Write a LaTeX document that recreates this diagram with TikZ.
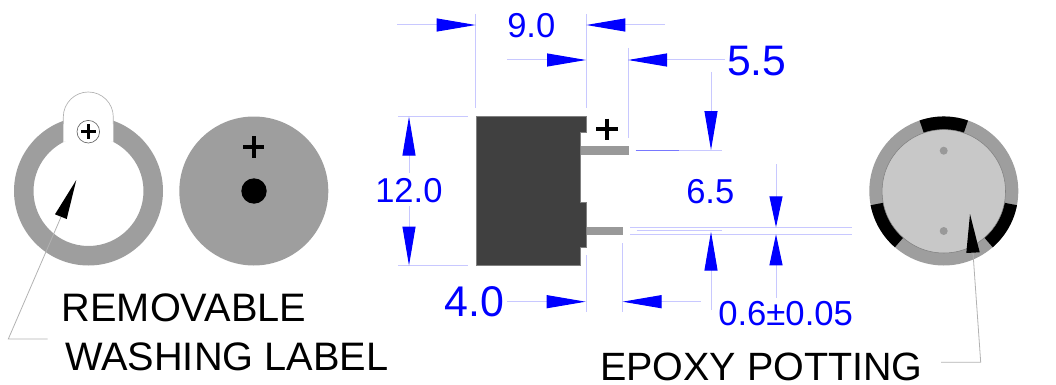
\documentclass[tikz,border=0pt]{standalone}
\usepackage{fontspec}
\setmainfont{Liberation Sans}
\usetikzlibrary{arrows.meta}
\definecolor{dimblue}{HTML}{0000FF}
\definecolor{dimline}{HTML}{C8C8FF}
\definecolor{ringgray}{HTML}{9E9E9E}
\definecolor{pingray}{HTML}{999999}
\definecolor{bodygray}{HTML}{404040}
\definecolor{epoxy}{HTML}{C8C8C8}
\tikzset{
  x=0.75pt,y=-0.75pt,
  dimrule/.style={draw=dimline,line width=0.75pt},
  dimarrow/.style={dimrule,-{Triangle[length=29.25pt,width=9.75pt,color=dimblue]}},
  dimarrowshort/.style={dimrule,-{Triangle[length=23.25pt,width=9.75pt,color=dimblue]}},
  leader/.style={draw=black!30,line width=0.6pt},
  pointer/.style={fill=black,draw=none},
  dimtext/.style={text=dimblue,anchor=base west,inner sep=0pt,font=\fontsize{#1}{#1}\selectfont},
  blacktext/.style={text=black,anchor=base west,inner sep=0pt,font=\fontsize{#1}{#1}\selectfont},
  plusmark/.style={draw=black,line width=3pt},
}
\begin{document}
\begin{tikzpicture}
\useasboundingbox (0,0) rectangle (1056,385);
% --- washing label ring
\fill[ringgray,even odd rule] (88.5,191) circle[radius=74.5] (88.5,191) circle[radius=55];
\fill[white] (63.3,142) -- (63.3,117) arc[start angle=180,end angle=360,radius=25] -- (113.3,142) -- (88.5,136) -- cycle;
\draw[draw=black!30,line width=0.5pt] (63.3,124) -- (63.3,117) arc[start angle=180,end angle=360,radius=25] -- (113.3,124);
\draw[black!60,line width=0.5pt,fill=white] (88.3,131.7) circle[radius=11.3];
\draw[black,line width=2.2pt] (81,131.7) -- (96,131.7) (88.3,124.4) -- (88.3,139);
\path[pointer] (76.3,180) -- (55,214.3) -- (66.7,219) -- cycle;
\draw[leader] (61,217) -- (8.3,339) -- (47.7,339);
% --- disk
\fill[ringgray] (253.8,191) circle[radius=74.5];
\fill[black] (254,191) circle[radius=12.7];
\draw[plusmark] (243,146.7) -- (264,146.7) (253.5,136) -- (253.5,157.5);
\node[blacktext=29.8] (removable) at (61.5,321) {REMOVABLE};
\node[blacktext=29.8] (washing) at (65,370) {WASHING LABEL};
% --- side view
\draw[pingray,fill=pingray,line width=0.5pt] (580,146.7) rectangle (628,154.3);
\draw[pingray,fill=pingray,line width=0.5pt] (586,227.3) rectangle (622.3,234.7);
\draw[fill=bodygray,draw=black!50,line width=0.5pt] (476,116.7) -- (586,116.7) -- (586,132.7) -- (580.3,132.7) -- (580.3,202.3) -- (586,202.3) -- (586,247.7) -- (580.3,247.7) -- (580.3,265.7) -- (476,265.7) -- cycle;
\draw[plusmark] (596,129.3) -- (617.5,129.3) (606.7,118.5) -- (606.7,140);
% --- dimension 9.0
\draw[dimrule] (475.7,14) -- (475.7,108);
\draw[dimrule] (586.3,14) -- (586.3,108);
\draw[dimarrow] (397,25) -- (475.7,25);
\draw[dimarrow] (665,25) -- (586.3,25);
\node[dimtext=25.9] (d90) at (507,37.7) {9.0};
% --- dimension 5.5
\draw[dimrule] (628,48) -- (628,138);
\draw[dimarrow] (507,60) -- (586,60);
\draw[dimarrow] (725,60) -- (628,60);
\node[dimtext=32] (d55) at (727,75) {5.5};
\draw[dimarrow] (711,72) -- (711,150);
\draw[dimrule] (635.7,150) -- (721.7,150);
\draw[draw=dimline!60!dimblue,line width=0.75pt] (635.7,150) -- (679,150);
% --- dimension 12.0
\draw[dimrule] (398,116.7) -- (467.7,116.7);
\draw[dimrule] (398,265.5) -- (468,265.5);
\draw[dimarrow] (409,173) -- (409,116.7);
\draw[dimarrow] (409,206) -- (409,265.5);
\node[dimtext=25.9] (d120) at (375,202) {12.0};
% --- dimension 4.0
\draw[dimrule] (586,255) -- (586,312);
\draw[dimrule] (622.5,243) -- (622.5,312);
\draw[dimarrow] (507,301.7) -- (585.7,301.7);
\draw[dimarrow] (700.7,301.7) -- (622.5,301.7);
\node[dimtext=32.2] (d40) at (444,316.7) {4.0};
% --- dimension 6.5
\draw[dimrule] (630,227.3) -- (852,227.3);
\draw[dimrule] (630,234.3) -- (852,234.3);
\draw[dimrule] (636.7,230.7) -- (721.7,230.7);
\draw[dimarrow] (711,310) -- (711,231.7);
\node[dimtext=25.9] (d65) at (686,203.3) {6.5};
% --- dimension 0.6
\draw[dimarrowshort] (776,164) -- (776,227.3);
\draw[dimarrowshort] (776,297.7) -- (776,234.3);
\node[dimtext=26] (d06) at (718,325) {0.6±0.05};
% --- potting view
\fill[ringgray] (943.8,191) circle[radius=74.5];
\begin{scope}[shift={(943.8,191)}]
\fill[black] (71:55.9pt) arc[start angle=71,end angle=109,radius=55.9pt] -- (109:46pt) arc[start angle=109,end angle=71,radius=46pt] -- cycle;
\fill[black] (191:55.9pt) arc[start angle=191,end angle=229,radius=55.9pt] -- (229:46pt) arc[start angle=229,end angle=191,radius=46pt] -- cycle;
\fill[black] (311:55.9pt) arc[start angle=311,end angle=349,radius=55.9pt] -- (349:46pt) arc[start angle=349,end angle=311,radius=46pt] -- cycle;
\end{scope}
\draw[fill=epoxy,draw=black!50,line width=0.4pt] (943.8,191.3) circle[radius=61.7];
\fill[pingray] (943.7,150.7) circle[radius=4];
\fill[pingray] (943.7,231) circle[radius=4];
\path[pointer] (970,214) -- (966.3,253) -- (979.7,252.3) -- cycle;
\draw[leader] (973,253) -- (980.7,362.3) -- (941,362.3);
\node[blacktext=29.6] (epoxytext) at (600,380.7) {EPOXY POTTING};
\end{tikzpicture}
\end{document}
